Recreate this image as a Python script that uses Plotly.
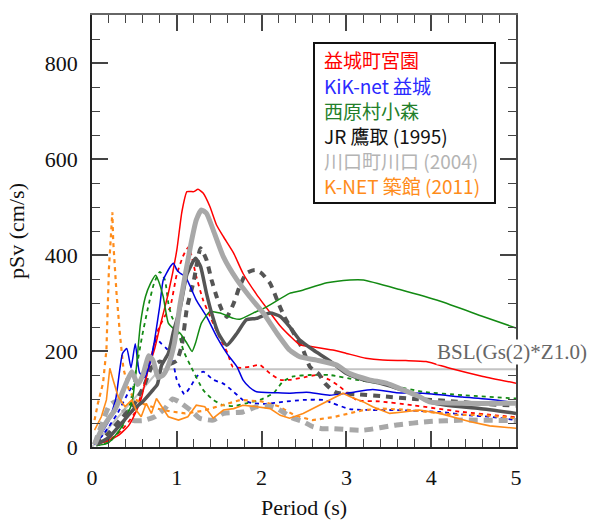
import plotly.graph_objects as go

# ---- data (period s, pSv cm/s) ----
red_x = [0.05,0.2,0.31,0.43,0.51,0.58,0.66,0.74,0.8,0.9,1.0,1.06,1.12,1.2,1.25,1.31,1.39,1.47,1.55,1.67,1.78,1.94,2.1,2.22,2.33,2.45,2.6,2.84,3.0,3.23,3.43,3.7,3.94,4.22,4.61,5.0]
red_y = [5,14,24,44,70,100,160,205,250,320,410,490,532,532,537,529,501,462,438,404,362,318,280,252,232,213,209,202,195,185,181,180,178,164,147,133]

red_d_x = [0.05,0.2,0.35,0.5,0.6,0.7,0.77,0.85,0.92,1.0,1.08,1.14,1.23,1.31,1.41,1.5,1.6,1.66,1.76,1.86,1.98,2.1,2.22,2.33,2.5,2.65,2.8,2.92,3.12,3.39,3.78,4.37,4.76,5.0]
red_d_y = [5,14,35,70,120,190,240,270,290,360,400,417,355,306,265,230,195,167,165,167,171,153,140,140,145,150,140,126,98,95,87,73,66,62]

blue_x = [0.03,0.1,0.2,0.28,0.36,0.41,0.46,0.51,0.56,0.62,0.7,0.74,0.8,0.84,0.92,0.96,1.0,1.04,1.1,1.16,1.23,1.35,1.47,1.59,1.71,1.78,1.86,1.94,2.17,2.33,2.53,2.8,3.04,3.31,3.59,3.9,4.37,4.76,5.0]
blue_y = [5,25,55,100,195,205,165,215,155,145,185,225,295,348,375,383,369,362,355,334,306,272,230,195,167,140,124,115,113,112,114,108,113,120,113,112,104,98,92]

blue_d_x = [0.03,0.15,0.3,0.45,0.55,0.62,0.7,0.76,0.82,0.88,0.94,1.0,1.09,1.17,1.23,1.31,1.43,1.55,1.67,1.78,1.9,2.05,2.25,2.49,2.73,2.84,3.04,3.31,3.6,4.1,4.45,4.69,5.0]
blue_d_y = [5,30,70,120,140,150,190,225,215,205,190,140,110,128,146,157,140,132,115,98,91,90,94,98,98,91,79,77,77,73,66,63,56]

green_x = [0.05,0.19,0.35,0.47,0.52,0.57,0.63,0.69,0.75,0.78,0.84,0.9,0.96,1.04,1.12,1.18,1.22,1.29,1.39,1.51,1.67,1.74,1.9,2.06,2.33,2.45,2.77,3.04,3.2,3.63,4.1,4.61,5.0]
green_y = [3,8,42,91,160,255,313,341,358,348,313,258,247,237,216,199,216,258,282,279,268,266,279,292,320,325,342,348,348,328,304,272,248]

green_d_x = [0.05,0.2,0.35,0.45,0.52,0.59,0.66,0.73,0.8,0.86,0.9,0.94,1.0,1.08,1.16,1.31,1.43,1.55,1.67,1.82,1.98,2.14,2.25,2.37,2.57,2.8,3.12,3.51,3.9,4.37,5.0]
green_d_y = [3,10,40,90,160,230,290,340,365,348,300,272,250,200,170,119,98,87,85,91,98,112,136,147,150,150,140,129,115,108,101]

jr_x = [0.05,0.2,0.35,0.5,0.6,0.7,0.77,0.82,0.9,0.96,1.04,1.12,1.22,1.28,1.35,1.41,1.49,1.59,1.71,1.82,1.94,2.1,2.22,2.33,2.45,2.61,2.8,3.0,3.2,3.39,3.78,3.98,4.18,4.57,5.0]
jr_y = [5,20,50,80,95,115,130,170,195,240,290,360,393,376,320,279,237,212,237,265,268,279,272,251,223,202,180,153,140,133,112,94,87,80,70]

jr_d_x = [0.05,0.2,0.35,0.5,0.62,0.7,0.8,0.9,1.0,1.06,1.12,1.2,1.28,1.35,1.41,1.47,1.53,1.59,1.67,1.74,1.82,1.92,2.0,2.1,2.2,2.27,2.37,2.49,2.57,2.67,2.75,2.86,2.92,3.1,3.4,3.8,4.2,4.6,5.0]
jr_d_y = [5,30,60,90,130,165,178,172,180,213,290,346,414,390,348,313,286,271,299,334,362,369,362,341,299,271,240,202,167,153,132,115,112,110,106,100,96,90,86]

kw_x = [0.03,0.11,0.2,0.27,0.35,0.42,0.47,0.54,0.6,0.67,0.72,0.78,0.84,0.9,0.97,1.04,1.16,1.23,1.29,1.35,1.43,1.55,1.71,1.86,2.02,2.18,2.33,2.45,2.65,2.88,3.04,3.27,3.47,3.67,3.86,3.98,4.37,5.0]
kw_y = [5,35,60,77,110,140,157,130,150,190,180,145,150,170,215,299,417,473,494,487,452,396,348,313,279,237,202,188,181,171,153,140,133,119,105,94,91,91]

kw_d_x = [0.03,0.1,0.2,0.28,0.38,0.47,0.6,0.74,0.86,0.95,1.02,1.16,1.27,1.43,1.55,1.78,1.94,2.14,2.25,2.37,2.49,2.61,2.73,2.84,3.2,3.59,3.98,4.37,5.0]
kw_d_y = [5,40,85,95,75,56,55,63,80,100,95,77,60,56,70,73,84,84,73,60,53,42,38,38,35,46,53,56,55]

kn_x = [0.03,0.11,0.17,0.21,0.25,0.31,0.39,0.47,0.52,0.58,0.64,0.7,0.76,0.82,0.9,1.02,1.13,1.23,1.33,1.43,1.55,1.67,1.78,1.94,2.1,2.22,2.33,2.49,2.65,2.8,2.96,3.04,3.2,3.31,3.51,3.67,3.86,4.1,4.45,4.69,5.0]
kn_y = [35,63,98,164,139,104,84,98,77,63,91,70,101,84,63,56,63,87,84,60,77,80,87,84,80,66,60,70,84,98,112,105,94,84,70,73,77,70,53,44,39]

kn_d_x = [0.03,0.07,0.13,0.17,0.2,0.24,0.25,0.29,0.33,0.37,0.43,0.5,0.6,0.65,0.77,0.9,1.1,1.3,1.5,1.75,2.0,2.2,2.4,2.6,2.84,3.04,3.2,3.43,3.75,4.29,4.57,5.0]
kn_d_y = [56,91,133,202,373,489,429,318,234,164,122,100,90,87,80,75,70,75,85,98,95,85,65,56,62,70,77,80,77,67,67,60]

bsl_x = [0.0, 0.8, 5.0]
bsl_y = [0, 162, 162]

legend_labels = ["益城町宮園", "KiK-net 益城", "西原村小森", "JR 鷹取 (1995)", "川口町川口 (2004)", "K-NET 築館 (2011)"]
legend_colors = ["#ff0000", "#2a2aff", "#23802a", "#111111", "#b4b4b4", "#ff8c1a"]

x_ticks = [0, 1, 2, 3, 4, 5]
y_ticks = [0, 200, 400, 600, 800]

RED, BLUE, GREEN, DGRAY, LGRAY, ORANGE = "#ff0000", "#0000e0", "#138a13", "#555555", "#a8a8a8", "#ff8c1a"

fig = go.Figure()

def add(x, y, color, width, dash="solid", shape="spline"):
    fig.add_trace(go.Scatter(x=x, y=y, mode="lines",
                             line=dict(color=color, width=width, dash=dash, shape=shape, smoothing=0.5),
                             showlegend=False, hoverinfo="skip"))

fig.add_trace(go.Scatter(x=bsl_x, y=bsl_y, mode="lines", line=dict(color="#c4c4c4", width=2),
                         showlegend=False, hoverinfo="skip"))

add(red_d_x, red_d_y, RED, 1.8, "4px,4px")
add(blue_d_x, blue_d_y, BLUE, 1.8, "4px,4px")
add(green_d_x, green_d_y, GREEN, 1.8, "4px,4px")
add(kn_d_x, kn_d_y, ORANGE, 2.2, "4px,4px", "linear")
add(kw_d_x, kw_d_y, LGRAY, 5, "9px,6px")
add(jr_d_x, jr_d_y, DGRAY, 4, "7px,6px")
add(red_x, red_y, RED, 1.5)
add(blue_x, blue_y, BLUE, 1.5)
add(green_x, green_y, GREEN, 1.5)
add(jr_x, jr_y, DGRAY, 3.5)
add(kw_x, kw_y, LGRAY, 5)
add(kn_x, kn_y, ORANGE, 1.6, "solid", "linear")

# invisible trace carrying the mirrored (top/right) tick axes
fig.add_trace(go.Scatter(x=[0], y=[0], xaxis="x2", yaxis="y2", mode="markers",
                         marker=dict(opacity=0), showlegend=False, hoverinfo="skip"))

L, R, T, B = 92, 82, 15, 74
W, H = 598, 521
pw, ph = W - L - R, H - T - B

def px(x):
    return (x - L) / pw

def py(y):
    return (H - B - y) / ph

annotations = []
row_y = [60, 85, 110, 135, 160, 185]
for lab, col, ry in zip(legend_labels, legend_colors, row_y):
    annotations.append(dict(x=px(322), y=py(ry), xref="paper", yref="paper", text=lab,
                            showarrow=False, xanchor="left", yanchor="middle",
                            font=dict(family="Noto Sans CJK JP", size=19, color=col)))
annotations.append(dict(x=px(436), y=py(352), xref="paper", yref="paper", text="BSL(Gs(2)*Z1.0)",
                        showarrow=False, xanchor="left", yanchor="middle", bgcolor="white",
                        borderpad=0, font=dict(family="Liberation Serif", size=21, color="#666666")))

fig.update_layout(
    width=W, height=H, margin=dict(l=L, r=R, t=T, b=B, autoexpand=False),
    paper_bgcolor="white", plot_bgcolor="white",
    font=dict(family="Liberation Serif", size=22, color="#111111"),
    annotations=annotations,
    shapes=[dict(type="rect", xref="paper", yref="paper", x0=px(314), x1=px(495), y0=py(203), y1=py(43),
                 line=dict(color="#111111", width=2), fillcolor="white", layer="above")],
    xaxis2=dict(overlaying="x", side="top", range=[0, 5], tickvals=x_ticks, ticks="inside", ticklen=16,
                tickwidth=1.5, tickcolor="#444", showticklabels=False, showgrid=False, zeroline=False,
                showline=True, linecolor="#666", linewidth=1.5, automargin=False,
                minor=dict(dtick=0.2, ticks="inside", ticklen=8, tickwidth=1.2, tickcolor="#444", showgrid=False)),
    yaxis2=dict(overlaying="y", side="right", range=[0, 900], tickvals=y_ticks, ticks="inside", ticklen=16,
                tickwidth=1.5, tickcolor="#444", showticklabels=False, showgrid=False, zeroline=False,
                showline=True, linecolor="#444", linewidth=1.5, automargin=False,
                minor=dict(dtick=50, ticks="inside", ticklen=8, tickwidth=1.2, tickcolor="#444", showgrid=False)),
)
fig.update_layout(
    xaxis=dict(range=[0, 5], tickvals=x_ticks, ticks="inside", ticklen=16, tickwidth=1.5, tickcolor="#444",
               showline=True, linecolor="#222", linewidth=1.5, showgrid=False, zeroline=False, automargin=False,
               minor=dict(dtick=0.2, ticks="inside", ticklen=8, tickwidth=1.2, tickcolor="#444", showgrid=False),
               tickfont=dict(size=22), ticklabelstandoff=10,
               title=dict(text="Period (s)", font=dict(size=22), standoff=10)),
    yaxis=dict(range=[0, 900], tickvals=y_ticks, ticks="inside", ticklen=16, tickwidth=1.5, tickcolor="#444",
               showline=True, linecolor="#222", linewidth=1.5, showgrid=False, zeroline=False, automargin=False,
               minor=dict(dtick=50, ticks="inside", ticklen=8, tickwidth=1.2, tickcolor="#444", showgrid=False),
               tickfont=dict(size=22), ticklabelstandoff=8,
               title=dict(text="pSv (cm/s)", font=dict(size=22), standoff=14)),
)

fig.write_html("out.html", config={"displayModeBar": False},
               post_script="document.body.style.margin='0';document.body.style.padding='0';")
